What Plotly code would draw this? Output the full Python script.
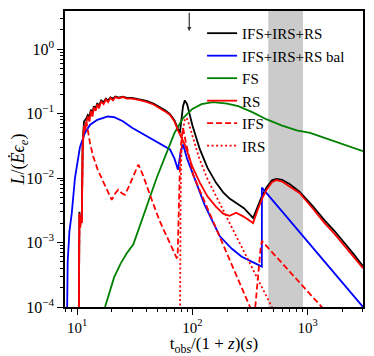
import numpy as np
import plotly.graph_objects as go

# total IFS+IRS+RS
t_tot = [10.3, 10.35, 10.5, 10.65, 10.8, 11.0, 11.2, 11.5, 11.8, 12.1, 12.4, 12.8, 13.2, 13.6, 14.0, 14.5, 15.0, 15.5,
         16.2, 17.0, 17.8, 18.6, 19.5, 20.5, 21.5, 23, 25, 27, 30, 35, 40, 46, 52, 58, 64, 70, 75, 78, 80, 83, 86, 90,
         100, 116, 135, 160, 185, 210, 240, 280, 336, 370, 400, 440, 490, 536, 600, 700, 853, 1100, 1400, 1700, 2100,
         2500, 3013]
L_tot = [1e-5, 0.0022, 0.003, 0.0018, 0.0026, 0.0022, 0.035, 0.075, 0.08, 0.085, 0.095, 0.09, 0.115, 0.1, 0.13, 0.12,
         0.145, 0.13, 0.16, 0.15, 0.17, 0.16, 0.178, 0.17, 0.183, 0.176, 0.183, 0.175, 0.174, 0.167, 0.157, 0.143, 0.127,
         0.112, 0.098, 0.078, 0.058, 0.05, 0.075, 0.13, 0.16, 0.14, 0.066, 0.028, 0.0145, 0.0085, 0.006, 0.0048, 0.0041,
         0.0034, 0.0024, 0.0038, 0.0052, 0.0072, 0.0092, 0.0097, 0.0094, 0.008, 0.0061, 0.0037, 0.0022, 0.00152,
         0.00097, 0.00066, 0.00043]

# balanced
t_bal = [8.1, 8.3, 8.6, 9.0, 9.6, 10.0, 10.6, 11.7, 13, 15, 18.5, 21, 25, 30, 35, 45, 55, 64, 70, 75, 79, 83, 90, 100,
         113, 128, 150, 173, 220, 268, 330, 400, 400.5, 3013]
L_bal = [1e-5, 0.0005, 0.0015, 0.0028, 0.01, 0.017, 0.03, 0.05, 0.067, 0.08, 0.09, 0.088, 0.076, 0.06, 0.051, 0.0397,
         0.0325, 0.0277, 0.02, 0.0135, 0.025, 0.033, 0.02, 0.012, 0.0068, 0.0038, 0.0021, 0.00125, 0.0008, 0.0006,
         0.0005, 0.000425, 0.0071, 1e-4]

# forward shock
t_fs = [17.5, 19, 21, 24, 27, 30.8, 35, 40, 45, 49, 60, 70, 83, 100, 120, 151, 200, 250, 330, 442, 600, 803, 1048,
        1500, 2000, 3013]
L_fs = [1e-4, 0.00016, 0.00029, 0.00048, 0.00068, 0.00094, 0.0018, 0.0035, 0.006, 0.01, 0.025, 0.05, 0.085, 0.118,
        0.14, 0.15, 0.143, 0.13, 0.105, 0.081, 0.065, 0.055, 0.05, 0.04, 0.033, 0.026]

# reverse shock
t_rs = [10.3, 10.35, 10.5, 10.65, 10.8, 11.0, 11.2, 11.5, 11.8, 12.1, 12.4, 12.8, 13.2, 13.6, 14.0, 14.5, 15.0, 15.5,
        16.2, 17.0, 17.8, 18.6, 19.5, 20.5, 21.5, 23, 25, 27, 30, 35, 40, 46, 52, 58, 64, 70, 75, 80, 86, 93, 100,
        116, 135, 160, 185, 210, 240, 280, 336, 370, 400, 440, 490, 536, 600, 700, 853, 1100, 1400, 1700, 2100, 2500,
        3013]
L_rs = [1e-5, 0.0021, 0.0028, 0.0017, 0.0025, 0.002, 0.03, 0.065, 0.055, 0.075, 0.09, 0.075, 0.11, 0.09, 0.125, 0.11,
        0.14, 0.12, 0.155, 0.14, 0.165, 0.15, 0.175, 0.16, 0.18, 0.172, 0.18, 0.17, 0.17, 0.162, 0.152, 0.138, 0.122,
        0.108, 0.095, 0.075, 0.055, 0.042, 0.033, 0.022, 0.015, 0.0085, 0.0052, 0.0036, 0.0028, 0.0026, 0.0029, 0.0025,
        0.002, 0.0033, 0.0047, 0.0066, 0.0086, 0.0093, 0.0088, 0.0073, 0.0058, 0.0034, 0.002, 0.00137, 0.00086,
        0.00059, 0.0004]

# internal forward shock
t_ifs = [10.3, 10.35, 10.5, 10.65, 10.8, 11.0, 11.2, 11.5, 11.8, 12.1, 12.5, 12.96, 13.8, 15, 17, 18.5, 20, 21.5, 22.8,
         24.5, 26, 28, 30, 34, 37, 41, 46, 52.4, 60, 67, 73, 74.5, 76, 78, 80, 83, 88, 95, 102, 116, 150, 200, 250,
         290, 316, 335, 350, 370, 390, 400, 600, 900, 1321, 1500]
L_ifs = [1e-5, 0.0021, 0.0028, 0.0017, 0.0025, 0.002, 0.03, 0.06, 0.07, 0.072, 0.05, 0.035, 0.0218, 0.014, 0.0085,
         0.006, 0.0046, 0.0058, 0.0066, 0.0058, 0.0055, 0.0072, 0.0097, 0.0162, 0.0115, 0.0067, 0.0039, 0.0021, 0.00124,
         0.0008, 0.00058, 0.0006, 0.004, 0.015, 0.035, 0.06, 0.035, 0.018, 0.011, 0.0064, 0.0022, 0.00065, 0.000257,
         0.00014, 1e-4, 4e-5, 1e-4, 0.0003, 0.0008, 0.00106, 0.000475, 0.000213, 1e-4, 7.8e-5]

# internal reverse shock
t_irs = [77.5, 78, 79, 80, 82, 86, 89, 93, 100, 115, 134, 160, 180, 220, 250, 300, 350, 420, 488, 520]
L_irs = [1e-6, 1e-4, 0.004, 0.02, 0.05, 0.08, 0.086, 0.07, 0.045, 0.02, 0.01, 0.0053, 0.0035, 0.0017, 0.00108, 0.00057,
         0.00033, 0.00017, 1e-4, 8e-5]

band = [455, 910]
arrow_t = 94

serif = "Liberation Serif"
lw = 1.8

fig = go.Figure()
fig.add_vrect(x0=band[0], x1=band[1], fillcolor="#cbcbcb", line_width=0, layer="below")

fig.add_trace(go.Scatter(x=t_tot, y=L_tot, mode="lines", name="IFS+IRS+RS",
                         line=dict(color="black", width=lw)))
fig.add_trace(go.Scatter(x=t_bal, y=L_bal, mode="lines", name="IFS+IRS+RS bal",
                         line=dict(color="#0000ff", width=lw)))
fig.add_trace(go.Scatter(x=t_fs, y=L_fs, mode="lines", name="FS",
                         line=dict(color="#008000", width=lw)))
fig.add_trace(go.Scatter(x=t_rs, y=L_rs, mode="lines", name="RS",
                         line=dict(color="#ff0000", width=lw)))
fig.add_trace(go.Scatter(x=t_ifs, y=L_ifs, mode="lines", name="IFS",
                         line=dict(color="#ff0000", width=lw, dash="6px,3px")))
fig.add_trace(go.Scatter(x=t_irs, y=L_irs, mode="lines", name="IRS",
                         line=dict(color="#ff0000", width=lw, dash="2px,2.5px")))

fig.add_annotation(x=np.log10(arrow_t), y=0.932, xref="x", yref="paper", ax=0, ay=-20,
                   text="", showarrow=True, arrowhead=2, arrowsize=0.7, arrowwidth=1.2, arrowcolor="#333")

minor_x = [m * 10 ** d for d in range(0, 4) for m in range(2, 10)]
minor_y = [m * 10.0 ** d for d in range(-4, 1) for m in range(2, 10)]

fig.update_xaxes(type="log", range=[np.log10(7.87), np.log10(3013)], automargin=False,
                 tickvals=[10, 100, 1000], ticktext=["10<sup>1</sup>", "10<sup>2</sup>", "10<sup>3</sup>"],
                 tickfont=dict(family=serif, size=15),
                 ticks="outside", ticklen=6, tickwidth=1, tickcolor="black",
                 minor=dict(tickvals=minor_x, ticks="outside", ticklen=3, tickcolor="black", showgrid=False),
                 showline=True, linecolor="black", linewidth=1.5, mirror=True, showgrid=False, zeroline=False,
                 title=dict(text="t<sub>obs</sub>/(1 + <i>z</i>)(<i>s</i>)", font=dict(family=serif, size=17),
                            standoff=1))
fig.update_yaxes(type="log", range=[-4, 0.59], automargin=False,
                 tickvals=[1e-4, 1e-3, 1e-2, 1e-1, 1],
                 ticktext=["10<sup>−4</sup>", "10<sup>−3</sup>", "10<sup>−2</sup>", "10<sup>−1</sup>", "10<sup>0</sup>"],
                 tickfont=dict(family=serif, size=16),
                 ticks="outside", ticklen=6, tickwidth=1, tickcolor="black",
                 minor=dict(tickvals=minor_y, ticks="outside", ticklen=3, tickcolor="black", showgrid=False),
                 showline=True, linecolor="black", linewidth=1.5, mirror=True, showgrid=False, zeroline=False,
                 title=dict(text="<i>L</i>/(<i>Ė</i><i>ϵ</i><sub><i>e</i></sub>)", font=dict(family=serif, size=18),
                            standoff=2))

# the page body adds an 8px offset, so the figure is sized to fit inside it
fig.update_layout(width=366, height=348, margin=dict(l=57, r=11, t=3, b=49),
                  paper_bgcolor="white", plot_bgcolor="white",
                  font=dict(family=serif, size=15, color="black"),
                  legend=dict(x=0.46, y=0.98, xanchor="left", yanchor="top", bgcolor="rgba(0,0,0,0)",
                              font=dict(family=serif, size=15), borderwidth=0),
                  showlegend=True)

fig.write_html("out.html")
